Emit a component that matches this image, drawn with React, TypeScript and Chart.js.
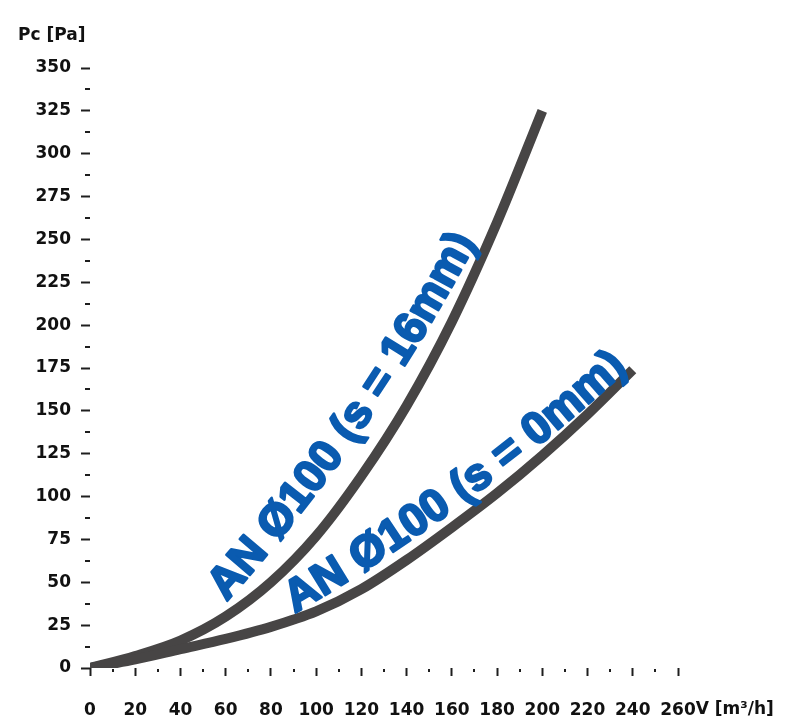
import React, { useEffect, useRef } from 'react';
import { Chart, registerables } from 'chart.js';

Chart.register(...registerables);

// ---- data ----
const flowS16 = [0, 20, 40, 60, 80, 100, 120, 140, 160, 180, 200];
const pressureS16 = [0, 7, 16, 30, 50, 77, 112, 153, 202, 260, 325];
const flowS0 = [0, 20, 40, 60, 80, 100, 120, 140, 160, 180, 200, 220, 240];
const pressureS0 = [0, 5, 11, 17, 24, 33, 46, 63, 82, 102, 124, 148, 174];
const labelS16 = 'AN Ø100 (s = 16mm)';
const labelS0 = 'AN Ø100 (s = 0mm)';
const yTitle = 'Pc [Pa]';
const xUnit = 'V [m³/h]';
const xMin = 0;
const xMax = 260;
const xStep = 10;
const xLabelEvery = 20;
const yMin = 0;
const yMax = 350;
const yStep = 12.5;
const yLabelEvery = 25;

const TICK_FONT = { family: "'DejaVu Sans', sans-serif", weight: 'bold' as const, size: 17 };
const TICK_FONT_CSS = "bold 17px 'DejaVu Sans', sans-serif";
const CURVE_COLOR = '#474545';
const LABEL_COLOR = '#0a5bb0';
const AXIS_COLOR = '#1e1e1e';

type P = [number, number];

function quadPoint(p0: P, c: P, p2: P, t: number): P {
  const u = 1 - t;
  return [
    u * u * p0[0] + 2 * u * t * c[0] + t * t * p2[0],
    u * u * p0[1] + 2 * u * t * c[1] + t * t * p2[1],
  ];
}

function drawTextOnQuad(ctx: CanvasRenderingContext2D, text: string, p0: P, c: P, p2: P) {
  const N = 400;
  const pts: P[] = [];
  const lens: number[] = [0];
  for (let i = 0; i <= N; i++) {
    pts.push(quadPoint(p0, c, p2, i / N));
    if (i > 0) {
      const a = pts[i - 1];
      const b = pts[i];
      lens.push(lens[i - 1] + Math.hypot(b[0] - a[0], b[1] - a[1]));
    }
  }
  const L = lens[N];
  const W = ctx.measureText(text).width;
  let s = (L - W) / 2;
  for (const ch of Array.from(text)) {
    const w = ctx.measureText(ch).width;
    const m = s + w / 2;
    let i = 1;
    while (i < N && lens[i] < m) i++;
    const a = pts[i - 1];
    const b = pts[i];
    const seg = lens[i] - lens[i - 1] || 1;
    const f = (m - lens[i - 1]) / seg;
    const x = a[0] + (b[0] - a[0]) * f;
    const y = a[1] + (b[1] - a[1]) * f;
    const ang = Math.atan2(b[1] - a[1], b[0] - a[0]);
    ctx.save();
    ctx.translate(x, y);
    ctx.rotate(ang);
    ctx.strokeText(ch, 0, 0);
    ctx.fillText(ch, 0, 0);
    ctx.restore();
    s += w;
  }
}

const decorPlugin = {
  id: 'decor',
  afterDraw(chart: any) {
    const { ctx, chartArea, scales } = chart;
    const xs = scales.x;
    const ys = scales.y;
    ctx.save();
    ctx.fillStyle = AXIS_COLOR;
    // minor y dashes
    for (let v = yMin + yStep; v < yMax; v += yLabelEvery) {
      const y = ys.getPixelForValue(v);
      ctx.fillRect(chartArea.left - 5, Math.round(y) - 1, 5, 2);
    }
    // minor x dots
    for (let v = xMin + xStep; v < xMax; v += xLabelEvery) {
      const x = xs.getPixelForValue(v);
      ctx.fillRect(Math.round(x) - 1, chartArea.bottom + 1, 2, 3);
    }
    // titles
    ctx.font = TICK_FONT_CSS;
    ctx.fillStyle = '#111';
    ctx.textBaseline = 'middle';
    ctx.textAlign = 'left';
    ctx.fillText(yTitle, 18, 36);
    const lastW = ctx.measureText(String(xMax)).width;
    ctx.fillText(xUnit, xs.getPixelForValue(xMax) + lastW / 2, chartArea.bottom + 42);
    ctx.restore();
  },
  afterDatasetsDraw(chart: any, _args: any, opts: any) {
    const { ctx, scales } = chart;
    const xs = scales.x;
    const ys = scales.y;
    ctx.save();
    ctx.font = "bold 45px 'Liberation Sans', Arial, sans-serif";
    ctx.fillStyle = LABEL_COLOR;
    ctx.strokeStyle = LABEL_COLOR;
    ctx.lineWidth = 2.5;
    ctx.lineJoin = 'round';
    ctx.textAlign = 'center';
    ctx.textBaseline = 'middle';
    for (const lab of opts.labels || []) {
      const toPx = (p: P): P => [xs.getPixelForValue(p[0]), ys.getPixelForValue(p[1])];
      drawTextOnQuad(ctx, lab.text, toPx(lab.path[0]), toPx(lab.path[1]), toPx(lab.path[2]));
    }
    ctx.restore();
  },
};

export default function App() {
  const ref = useRef<HTMLCanvasElement>(null);
  useEffect(() => {
    const canvas = ref.current!;
    const chart = new Chart(canvas, {
      type: 'line',
      data: {
        datasets: [
          {
            label: labelS0,
            data: flowS0.map((x, i) => ({ x, y: pressureS0[i] })),
            borderColor: CURVE_COLOR,
            borderWidth: 10,
            pointRadius: 0,
            cubicInterpolationMode: 'monotone',
            borderCapStyle: 'butt',
            borderJoinStyle: 'round',
            fill: false,
          },
          {
            label: labelS16,
            data: flowS16.map((x, i) => ({ x, y: pressureS16[i] })),
            borderColor: CURVE_COLOR,
            borderWidth: 10,
            pointRadius: 0,
            cubicInterpolationMode: 'monotone',
            borderCapStyle: 'butt',
            borderJoinStyle: 'round',
            fill: false,
          },
        ],
      },
      options: {
        responsive: false,
        animation: false,
        devicePixelRatio: 1,
        layout: { padding: { left: 0, top: 68, right: 111, bottom: 0 } },
        plugins: {
          legend: { display: false },
          tooltip: { enabled: false },
          decor: {
            labels: [
              { text: labelS16, path: [[55.2, 42], [121.1, 138.6], [166.6, 253.8]] },
              { text: labelS0, path: [[86.6, 37.3], [166.6, 98.6], [235.1, 180.9]] },
            ],
          },
        } as any,
        scales: {
          x: {
            type: 'linear',
            min: xMin,
            max: xMax,
            border: { display: false },
            grid: {
              drawOnChartArea: false,
              drawTicks: true,
              tickLength: 8,
              tickWidth: 2,
              tickColor: (c: any) =>
                c.tick && c.tick.value % xLabelEvery === 0 ? AXIS_COLOR : 'rgba(0,0,0,0)',
            },
            ticks: {
              stepSize: xStep,
              autoSkip: false,
              maxRotation: 0,
              padding: 24,
              color: '#111',
              font: TICK_FONT,
              callback: (v: any) => (Number(v) % xLabelEvery === 0 ? String(v) : ''),
            },
            afterFit: (s: any) => {
              s.height = 52;
            },
          },
          y: {
            type: 'linear',
            min: yMin,
            max: yMax,
            border: { display: false },
            grid: {
              drawOnChartArea: false,
              drawTicks: true,
              tickLength: 9,
              tickWidth: 2,
              tickColor: (c: any) =>
                c.tick && c.tick.value % yLabelEvery === 0 ? AXIS_COLOR : 'rgba(0,0,0,0)',
            },
            ticks: {
              stepSize: yStep,
              autoSkip: false,
              padding: 10,
              color: '#111',
              font: TICK_FONT,
              callback: (v: any) => (Number(v) % yLabelEvery === 0 ? String(v) : ''),
            },
            afterFit: (s: any) => {
              s.width = 90;
            },
          },
        },
      },
      plugins: [decorPlugin],
    } as any);
    return () => chart.destroy();
  }, []);
  return (
    <div style={{ position: 'absolute', left: 0, top: 0, width: 789, height: 720, background: '#fff' }}>
      <canvas ref={ref} width={789} height={720} style={{ display: 'block', width: 789, height: 720 }} />
    </div>
  );
}
